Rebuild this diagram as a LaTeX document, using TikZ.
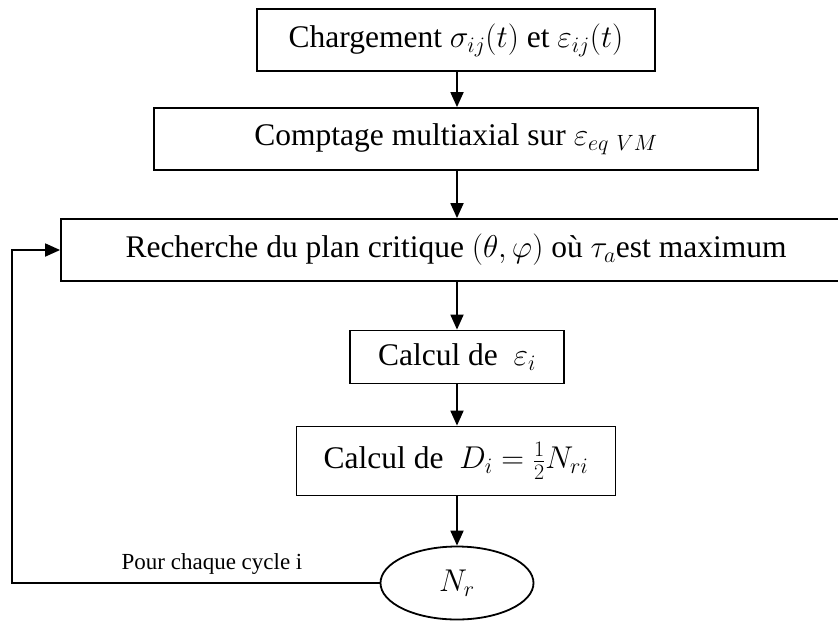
\RequirePackage{fix-cm}
\documentclass[tikz,border=0pt]{standalone}
\usepackage{amsmath}
\usepackage{fontspec}
\setmainfont{Liberation Serif}
\usetikzlibrary{arrows.meta,shapes.geometric}
\begin{document}
\begin{tikzpicture}[x=1pt,y=-1pt,
  box/.style={draw,line width=1.8pt,inner sep=0pt,font=\fontsize{31.5}{37}\selectfont},
  arr/.style={line width=1.8pt,-{Triangle[length=15pt,width=13pt]}},
  lbl/.style={font=\fontsize{23}{27}\selectfont,inner sep=0pt}]
\useasboundingbox (0,0) rectangle (838,622);
\clip (0,0) rectangle (838,622);
\node[box,minimum width=398pt,minimum height=62pt] (b1) at (456,40) {Chargement $\sigma_{ij}(t)$ et $\varepsilon_{ij}(t)$};
\node[box,minimum width=604pt,minimum height=62pt] (b2) at (456,139) {Comptage multiaxial sur $\varepsilon_{eq\ VM}$};
\node[box,minimum width=790pt,minimum height=62pt] (b3) at (456,250) {Recherche du plan critique $(\theta,\varphi)$ où $\tau_a$est maximum};
\node[box,minimum width=214pt,minimum height=53pt] (b4) at (457,357) {Calcul de ~$\varepsilon_i$};
\node[box,minimum width=319pt,minimum height=69pt] (b5) at (456,461) {Calcul de ~$D_i=\tfrac{1}{2}N_{ri}$};
\node[box,ellipse,minimum width=153pt,minimum height=73pt] (nr) at (457,583) {$N_r$};
\node[lbl] (lab) at (212,564) {Pour chaque cycle i};
\coordinate (lc) at (12,0);
\coordinate (ax) at (457,0);
\draw[arr] (b1.south -| ax) -- (b2.north -| ax);
\draw[arr] (b2.south -| ax) -- (b3.north -| ax);
\draw[arr] (b3.south -| ax) -- (b4.north -| ax);
\draw[arr] (b4.south -| ax) -- (b5.north -| ax);
\draw[arr] (b5.south -| ax) -- (nr.north -| ax);
\draw[arr] (nr.west) -- (nr.west -| lc) |- (b3.west);
\end{tikzpicture}
\end{document}
